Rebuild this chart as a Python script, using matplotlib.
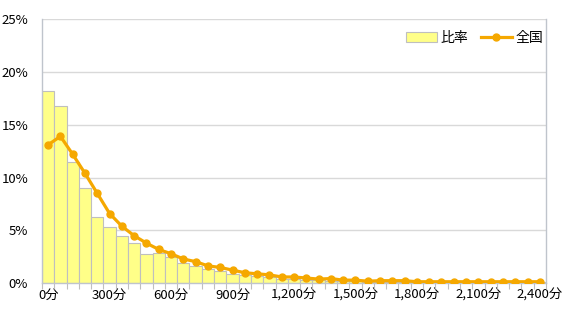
import matplotlib
matplotlib.use("Agg")
import matplotlib.pyplot as plt
import numpy as np
from matplotlib.ticker import FixedLocator, FuncFormatter

plt.rcParams['font.family'] = ['Noto Sans CJK JP', 'DejaVu Sans']

minutes = list(range(0, 2401, 60))
ratio = [18.2, 16.8, 11.5, 9.0, 6.3, 5.3, 4.5, 3.8, 2.8, 2.9,
         2.5, 1.9, 1.6, 1.4, 1.2, 0.9, 0.8, 0.7, 0.6, 0.45,
         0.4, 0.3, 0.3, 0.25, 0.2, 0.2, 0.15, 0.15, 0.15, 0.15,
         0.1, 0.1, 0.1, 0.1, 0.1, 0.1, 0.1, 0.1, 0.1, 0.1, 0.1]
national = [13.1, 13.9, 12.2, 10.4, 8.5, 6.6, 5.4, 4.5, 3.8, 3.2,
            2.8, 2.3, 2.05, 1.65, 1.5, 1.25, 1.0, 0.9, 0.8, 0.6,
            0.6, 0.5, 0.4, 0.45, 0.3, 0.3, 0.2, 0.25, 0.25, 0.25,
            0.15, 0.15, 0.15, 0.15, 0.15, 0.15, 0.15, 0.15, 0.15, 0.15, 0.15]
tick_labels = ["0分", "300分", "600分", "900分", "1,200分", "1,500分",
               "1,800分", "2,100分", "2,400分"]
yticks = [0, 5, 10, 15, 20, 25]

fig = plt.figure(figsize=(5.62, 3.11), dpi=100)
ax = fig.add_axes([0.0747, 0.089, 0.8968, 0.850])

x = np.arange(len(minutes))
bars = ax.bar(x, ratio, width=1.0, color='#FFFF88', edgecolor='#BFBFBF',
              linewidth=0.8, label='比率', zorder=2)
line, = ax.plot(x, national, color='#F5A800', lw=2.3, marker='o', ms=5,
                label='全国', zorder=3)

ax.set_xlim(-0.5, len(minutes) - 0.5)
ax.set_ylim(0, 25)
ax.set_yticks(yticks)
ax.yaxis.set_major_formatter(FuncFormatter(lambda v, p: f"{int(v)}%"))
ax.grid(axis='y', color='#D9D9D9', lw=1.0, zorder=0)
ax.set_axisbelow(True)

major_pos = [i for i, m in enumerate(minutes) if m % 300 == 0]
ax.set_xticks(major_pos)
ax.set_xticklabels(tick_labels)
ax.xaxis.set_minor_locator(FixedLocator(np.arange(-0.5, len(minutes), 1.0)))
ax.tick_params(axis='x', which='major', length=0, pad=4, labelsize=9.5, colors='#000000')
ax.tick_params(axis='x', which='minor', length=4, color='#BFBFBF', width=0.8)
ax.tick_params(axis='y', length=0, pad=10, labelsize=9.5)

for s in ['left', 'right', 'bottom']:
    ax.spines[s].set_color('#BFC4CC')
    ax.spines[s].set_linewidth(1.0)
ax.spines['top'].set_visible(False)

leg = ax.legend([bars, line], ['比率', '全国'], loc='center right',
                bbox_to_anchor=(0.995, 0.928), ncol=2,
                frameon=False, fontsize=10, handlelength=2.2,
                columnspacing=0.9, handletextpad=0.3, borderaxespad=0.0,
                borderpad=0.0)

fig.savefig('out.png', dpi=100)
